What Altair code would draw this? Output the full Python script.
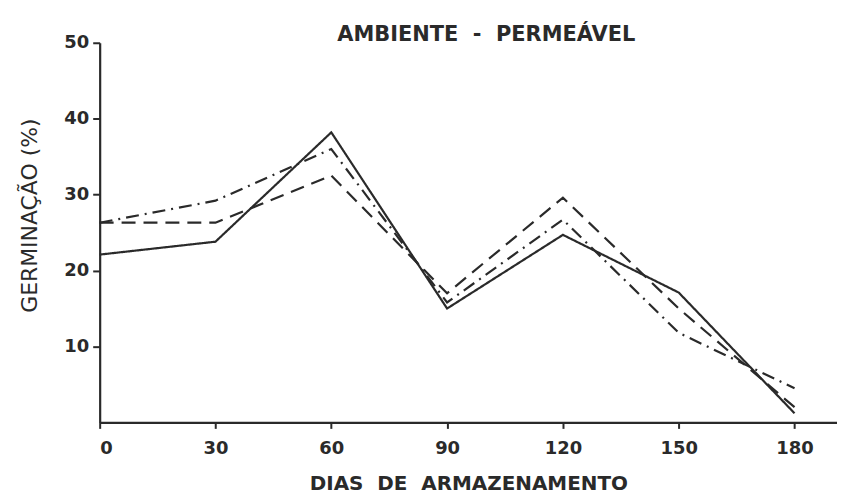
import altair as alt
import pandas as pd

dias = [0, 30, 60, 90, 120, 150, 180]
solida = [22.1, 23.8, 38.2, 15.0, 24.7, 17.1, 1.2]
tracejada = [26.3, 26.3, 32.5, 17.0, 29.6, 15.0, 2.0]
traco_ponto = [26.3, 29.2, 36.0, 15.8, 26.7, 11.8, 4.5]
series = ["solida", "tracejada", "traco_ponto"]
x_ticks = [0, 30, 60, 90, 120, 150, 180]
y_ticks = [10, 20, 30, 40, 50]

rows = []
for nome, vals in zip(series, [solida, tracejada, traco_ponto]):
    for d, v in zip(dias, vals):
        rows.append({"dias": d, "germ": v, "serie": nome})
df = pd.DataFrame(rows)

FONT = "DejaVu Sans"
INK = "#2a2a2a"
NB = "\u00a0"

chart = (
    alt.Chart(df)
    .mark_line(strokeWidth=2.2, color=INK)
    .encode(
        x=alt.X(
            "dias:Q",
            scale=alt.Scale(domain=[0, 191], nice=False, zero=False),
            axis=alt.Axis(
                values=x_ticks,
                title=f"DIAS{NB} DE{NB} ARMAZENAMENTO",
                titleFontSize=20,
                titleFontWeight="bold",
                titleFont=FONT,
                titleColor=INK,
                titlePadding=16,
                labelFontSize=18,
                labelFont=FONT,
                labelFontWeight="bold",
                labelColor=INK,
                labelPadding=11,
                tickSize=6,
                tickColor=INK,
                tickWidth=2,
                domainColor=INK,
                domainWidth=2.2,
                grid=False,
            ),
        ),
        y=alt.Y(
            "germ:Q",
            scale=alt.Scale(domain=[0, 50], nice=False),
            axis=alt.Axis(
                values=y_ticks,
                title="GERMINAÇÃO (%)",
                titleFontSize=22,
                titleFontWeight="normal",
                titleFont=FONT,
                titleColor=INK,
                titlePadding=22,
                titleY=173,
                labelFontSize=18,
                labelFont=FONT,
                labelFontWeight="bold",
                labelColor=INK,
                labelPadding=4,
                tickSize=7,
                tickColor=INK,
                tickWidth=2,
                domainColor=INK,
                domainWidth=2.2,
                grid=False,
            ),
        ),
        strokeDash=alt.StrokeDash(
            "serie:N",
            scale=alt.Scale(domain=series, range=[[1, 0], [14, 8], [13, 6, 2, 6]]),
            legend=None,
        ),
        detail="serie:N",
    )
    .properties(
        width=740,
        height=381,
        padding={"left": 92, "top": 34, "right": 0, "bottom": 78},
        autosize=alt.AutoSizeParams(type="none"),
        title=alt.TitleParams(
            f"AMBIENTE{NB} -{NB} PERMEÁVEL",
            fontSize=21,
            fontWeight="bold",
            font=FONT,
            color=INK,
            anchor="middle",
            dx=18,
            offset=-11,
        ),
    )
    .configure(background="white")
    .configure_view(stroke=None)
)

chart.save("out.html", embed_options={"renderer": "svg", "actions": False})
